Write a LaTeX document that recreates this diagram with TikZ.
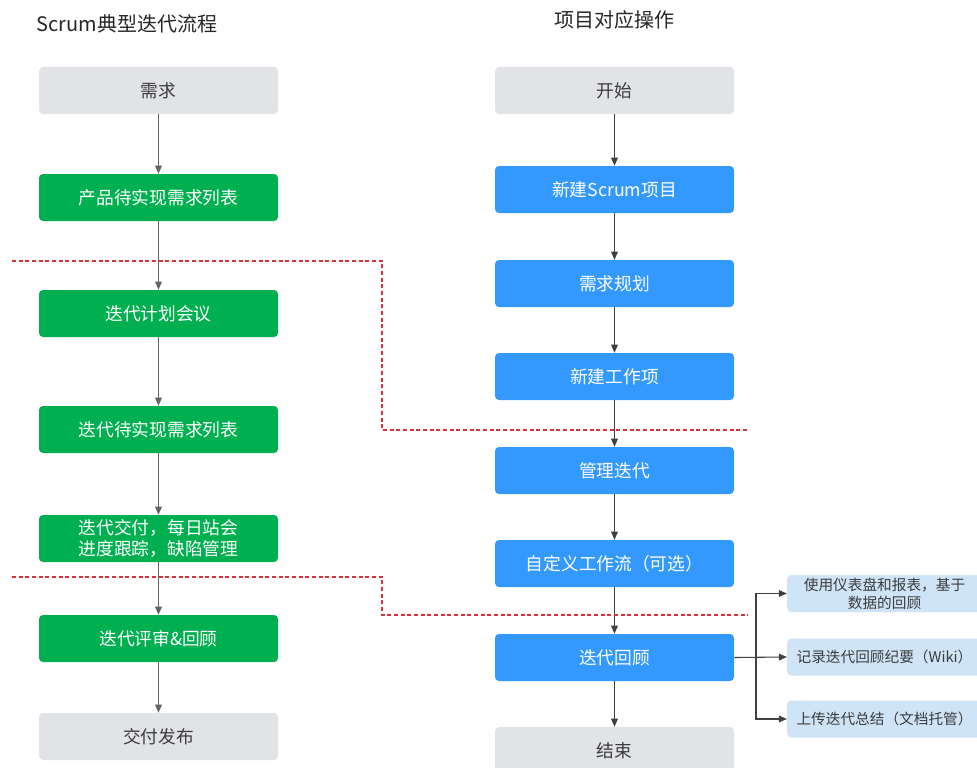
\documentclass[tikz,border=0pt]{standalone}
\usepackage{fontspec}
\setmainfont{Noto Sans CJK SC}
\usetikzlibrary{arrows.meta}
\definecolor{grayfill}{RGB}{225,227,230}
\definecolor{greenfill}{RGB}{0,176,80}
\definecolor{bluefill}{RGB}{51,153,255}
\definecolor{lightblue}{RGB}{207,228,247}
\definecolor{txtgray}{RGB}{60,60,60}
\definecolor{arrgray}{RGB}{100,100,100}
\definecolor{arrdark}{RGB}{64,64,64}
\definecolor{dashred}{RGB}{220,50,60}
\tikzset{
  box/.style={rectangle, rounded corners=3pt, minimum width=179.25pt, minimum height=35.25pt, inner sep=0pt, align=center, font=\fontsize{13.3}{16}\selectfont},
  graybox/.style={box, fill=grayfill, text=txtgray},
  greenbox/.style={box, fill=greenfill, text=white},
  bluebox/.style={box, fill=bluefill, text=white},
  sidebox/.style={rectangle, rounded corners=3pt, minimum width=146pt, minimum height=27.75pt, inner sep=0pt, align=center, fill=lightblue, text=txtgray, font=\fontsize{11}{13.5}\selectfont},
  arr/.style={draw=arrgray, line width=0.8pt, -{Triangle[length=6pt,width=5pt]}},
  arrd/.style={draw=arrdark, line width=0.8pt, -{Triangle[length=6pt,width=5pt]}},
  sep/.style={draw=dashred, line width=0.8pt, dash pattern=on 3pt off 2pt},
  title/.style={font=\fontsize{15}{18}\selectfont, text=black!85}
}
\begin{document}
\begin{tikzpicture}[x=0.75pt,y=-0.75pt]
\useasboundingbox (0,0) rectangle (977,767);
\fill[white] (0,0) rectangle (977,767);
% titles
\node[title] (tl) at (127,24) {Scrum典型迭代流程};
\node[title] (tr) at (614,20) {项目对应操作};
% left column
\node[graybox] (l1) at (158.5,90.5) {需求};
\node[greenbox] (l2) at (158.5,197.5) {产品待实现需求列表};
\node[greenbox] (l3) at (158.5,313.5) {迭代计划会议};
\node[greenbox] (l4) at (158.5,429.5) {迭代待实现需求列表};
\node[greenbox] (l5) at (158.5,538.5) {迭代交付，每日站会\\进度跟踪，缺陷管理};
\node[greenbox] (l6) at (158.5,638.5) {迭代评审\&回顾};
\node[graybox] (l7) at (158.5,736.5) {交付发布};
\draw[arr] (l1) -- (l2);
\draw[arr] (l2) -- (l3);
\draw[arr] (l3) -- (l4);
\draw[arr] (l4) -- (l5);
\draw[arr] (l5) -- (l6);
\draw[arr] (l6) -- (l7);
% right column
\node[graybox] (r1) at (614.5,90.5) {开始};
\node[bluebox] (r2) at (614.5,189.5) {新建Scrum项目};
\node[bluebox] (r3) at (614.5,283.5) {需求规划};
\node[bluebox] (r4) at (614.5,376.5) {新建工作项};
\node[bluebox] (r5) at (614.5,470.5) {管理迭代};
\node[bluebox] (r6) at (614.5,563.5) {自定义工作流（可选）};
\node[bluebox] (r7) at (614.5,657.5) {迭代回顾};
\node[graybox] (r8) at (614.5,750.5) {结束};
\draw[arrd] (r1) -- (r2);
\draw[arrd] (r2) -- (r3);
\draw[arrd] (r3) -- (r4);
\draw[arrd] (r4) -- (r5);
\draw[arrd] (r5) -- (r6);
\draw[arrd] (r6) -- (r7);
\draw[arrd] (r7) -- (r8);
% side boxes
\node[sidebox] (s1) at (884.5,593.5) {使用仪表盘和报表，基于\\数据的回顾};
\node[sidebox] (s2) at (884.5,657) {记录迭代回顾纪要（Wiki）};
\node[sidebox] (s3) at (884.5,719) {上传迭代总结（文档托管）};
\coordinate (bj) at (756,657.5);
\draw[arrd] (r7.east) -- (s2.west);
\draw[arrd] (bj) |- (s1.west);
\draw[arrd] (bj) |- (s3.west);
% separators
\draw[sep] (12,261) -- (382,261) -- (382,430) -- (748,430);
\draw[sep] (12,577) -- (382,577) -- (382,615) -- (748,615);
\end{tikzpicture}
\end{document}
